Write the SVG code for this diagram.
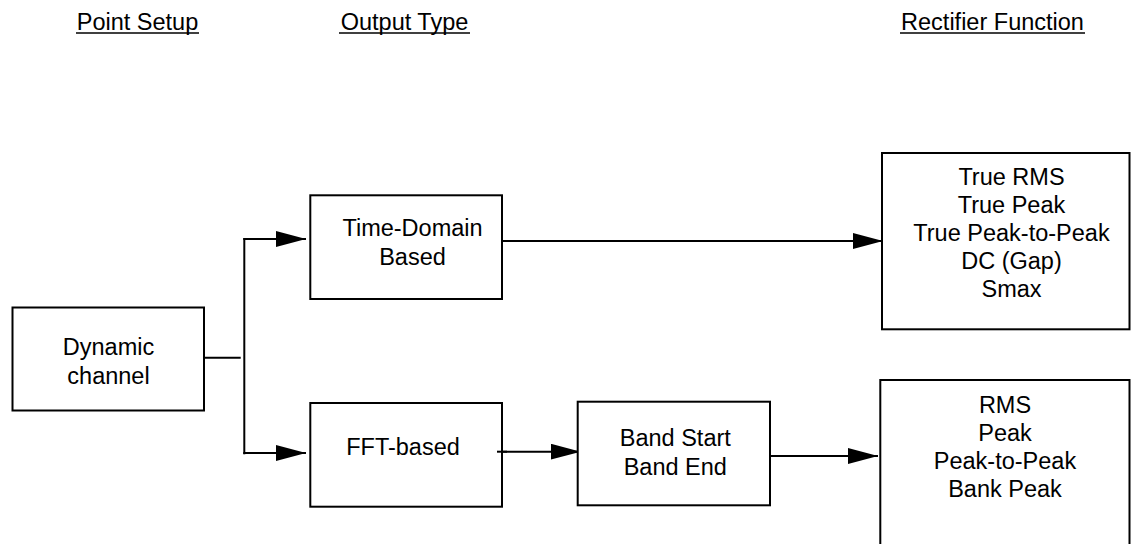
<svg xmlns="http://www.w3.org/2000/svg" width="1131" height="544" viewBox="0 0 1131 544">
  <defs>
    <marker id="arrow" viewBox="0 0 30 16" refX="30" refY="8" markerWidth="30" markerHeight="16" markerUnits="userSpaceOnUse" orient="auto">
      <path d="M0,0 L30,8 L0,16 Z" fill="#000"/>
    </marker>
    <style>
      .box { fill: #fff; stroke: #000; stroke-width: 2; }
      .wire { fill: none; stroke: #000; stroke-width: 2; }
      .lbl { font-family: "Liberation Sans", Arial, sans-serif; font-size: 23.5px; fill: #000; text-anchor: middle; }
      .ul { stroke: #000; stroke-width: 1.6; }
    </style>
  </defs>
  <rect width="1131" height="544" fill="#fff"/>

  <!-- column headings -->
  <g id="headings">
    <text class="lbl" x="137.5" y="30">Point Setup</text>
    <line class="ul" x1="76" y1="33" x2="199" y2="33"/>
    <text class="lbl" x="404.5" y="30">Output Type</text>
    <line class="ul" x1="339" y1="33" x2="470" y2="33"/>
    <text class="lbl" x="992.5" y="30">Rectifier Function</text>
    <line class="ul" x1="900" y1="33" x2="1085" y2="33"/>
  </g>

  <!-- connectors -->
  <g id="connectors">
    <line class="wire" x1="201" y1="357.7" x2="240.7" y2="357.7"/>
    <line class="wire" x1="244.3" y1="238" x2="244.3" y2="454.3"/>
    <line class="wire" x1="243.3" y1="239" x2="306" y2="239" marker-end="url(#arrow)"/>
    <line class="wire" x1="243.3" y1="453" x2="306" y2="453" marker-end="url(#arrow)"/>
    <line class="wire" x1="502" y1="241" x2="883" y2="241" marker-end="url(#arrow)"/>
    <line class="wire" x1="497" y1="451.7" x2="580.7" y2="451.7" marker-end="url(#arrow)"/>
    <line class="wire" x1="770" y1="456" x2="878" y2="456" marker-end="url(#arrow)"/>
  </g>

  <g id="dynamic-channel">
    <rect class="box" x="12.5" y="307.5" width="191.5" height="103"/>
    <text class="lbl" x="108.5" y="354.5">Dynamic</text>
    <text class="lbl" x="108.5" y="383.5">channel</text>
  </g>

  <g id="time-domain">
    <rect class="box" x="310.3" y="195.3" width="191.7" height="103.7"/>
    <text class="lbl" x="412.5" y="236">Time-Domain</text>
    <text class="lbl" x="412.5" y="265">Based</text>
  </g>

  <g id="fft-based">
    <rect class="box" x="310.3" y="403" width="191.7" height="103.7"/>
    <text class="lbl" x="403" y="455">FFT-based</text>
  </g>
  <line class="wire" x1="497" y1="451.7" x2="507" y2="451.7"/>

  <g id="band">
    <rect class="box" x="577.7" y="401.7" width="192.3" height="103.6"/>
    <text class="lbl" x="675.3" y="446">Band Start</text>
    <text class="lbl" x="675.3" y="475">Band End</text>
  </g>

  <g id="time-rectifiers">
    <rect class="box" x="882" y="153" width="247.5" height="176.3"/>
    <text class="lbl" x="1011.5" y="184.5">True RMS</text>
    <text class="lbl" x="1011.5" y="212.5">True Peak</text>
    <text class="lbl" x="1011.5" y="240.5">True Peak-to-Peak</text>
    <text class="lbl" x="1011.5" y="268.5">DC (Gap)</text>
    <text class="lbl" x="1011.5" y="296.5">Smax</text>
  </g>

  <g id="fft-rectifiers">
    <rect class="box" x="880.3" y="380" width="249.2" height="180"/>
    <text class="lbl" x="1005" y="412.7">RMS</text>
    <text class="lbl" x="1005" y="440.7">Peak</text>
    <text class="lbl" x="1005" y="469.3">Peak-to-Peak</text>
    <text class="lbl" x="1005" y="497.3">Bank Peak</text>
  </g>
</svg>
